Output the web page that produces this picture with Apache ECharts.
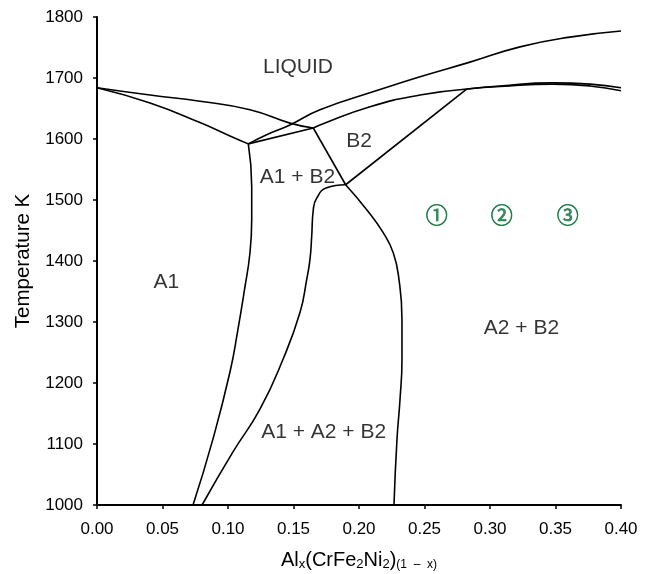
<!DOCTYPE html>
<html>
<head>
<meta charset="utf-8">
<script src="https://cdn.jsdelivr.net/npm/echarts@6/dist/echarts.min.js"></script>
<style>
  html, body { margin: 0; padding: 0; background: #fff; }
  #chart { width: 649px; height: 574px; }
</style>
</head>
<body>
<div id="chart"></div>
<script>
// phase boundaries, [x, T]
const liquidusLeftUpper = [[0, 1684], [0.0405, 1672], [0.0786, 1662], [0.1168, 1648], [0.1473, 1626], [0.1651, 1618]];
const liquidusLeftLower = [[0, 1684], [0.0405, 1659], [0.0786, 1627], [0.1015, 1605], [0.1155, 1592]];
const liquidusRight = [[0.1155, 1592], [0.1295, 1607], [0.1473, 1623], [0.1702, 1648], [0.216, 1681], [0.2466, 1702], [0.2847, 1726], [0.3229, 1751], [0.361, 1767], [0.40, 1777]];
const tieP1J = [[0.1155, 1592], [0.1651, 1618]];
const a1Boundary = [[0.1155, 1592], [0.1181, 1522], [0.1181, 1468], [0.1168, 1414], [0.1126, 1353], [0.1076, 1288], [0.1015, 1218], [0.0885, 1108], [0.0733, 1000]];
const b2Upper = [[0.1651, 1618], [0.1702, 1623], [0.2084, 1653], [0.2466, 1672], [0.2824, 1682]];
const b2TopOuter = [[0.2824, 1682], [0.3076, 1687], [0.3481, 1692], [0.3763, 1690], [0.40, 1684]];
const b2TopInner = [[0.2824, 1682], [0.3076, 1686], [0.3481, 1690], [0.3763, 1687], [0.40, 1679]];
const tieJK = [[0.1651, 1618], [0.1898, 1525]];
const tieKQ = [[0.1898, 1525], [0.2824, 1682]];
const a2Left = [[0.1898, 1525], [0.1753, 1520], [0.1677, 1503], [0.1651, 1484], [0.1639, 1441], [0.1626, 1403], [0.1601, 1370], [0.155, 1316], [0.142, 1239], [0.1244, 1157], [0.1038, 1087], [0.0802, 1000]];
const a1Right = [[0.1898, 1525], [0.2059, 1484], [0.2186, 1446], [0.2262, 1413], [0.2305, 1370], [0.2328, 1304], [0.2328, 1239], [0.2313, 1173], [0.229, 1108], [0.2267, 1000]];

const regionLabels = [
  [0.1534, 1717, 'LIQUID'],
  [0.153, 1537, 'A1 + B2'],
  [0.2, 1596, 'B2'],
  [0.053, 1365, 'A1'],
  [0.324, 1290, 'A2 + B2'],
  [0.173, 1120, 'A1 + A2 + B2']
];
const sampleMarks = [[0.2593, 1476, '①'], [0.309, 1476, '②'], [0.3593, 1476, '③']];

const curves = [
  [liquidusLeftUpper, true], [liquidusLeftLower, true], [liquidusRight, true],
  [tieP1J, false], [a1Boundary, true], [b2Upper, true], [b2TopOuter, true],
  [b2TopInner, true], [tieJK, false], [tieKQ, false], [a2Left, true], [a1Right, true]
];

const chart = echarts.init(document.getElementById('chart'));
const font = 'Liberation Sans, Arial, sans-serif';

chart.setOption({
  animation: false,
  grid: { left: 97, right: 28, top: 17, bottom: 69, outerBoundsMode: 'none', containLabel: false },
  xAxis: {
    type: 'value', min: 0, max: 0.4, interval: 0.05,
    axisLine: { lineStyle: { color: '#000', width: 2 } },
    axisTick: { show: true, length: 4, lineStyle: { color: '#000', width: 1.5 } },
    axisLabel: { color: '#000', fontSize: 17, fontFamily: font, margin: 16, formatter: v => v.toFixed(2) },
    splitLine: { show: false },
    nameLocation: 'middle', nameGap: 44,
    name: '{n|Al}{s|x}{n|(CrFe}{s|2}{n|Ni}{s|2}{n|)}{t|(1  –  x)}',
    nameTextStyle: {
      rich: {
        n: { fontSize: 20, fontFamily: font, color: '#000', lineHeight: 22, verticalAlign: 'middle' },
        s: { fontSize: 13, fontFamily: font, color: '#000', lineHeight: 22, verticalAlign: 'bottom' },
        t: { fontSize: 12, fontFamily: font, color: '#000', lineHeight: 22, verticalAlign: 'bottom' }
      }
    }
  },
  yAxis: {
    type: 'value', min: 1000, max: 1800, interval: 100,
    axisLine: { show: true, lineStyle: { color: '#000', width: 2 } },
    axisTick: { show: true, length: 4, lineStyle: { color: '#000', width: 1.5 } },
    axisLabel: { color: '#000', fontSize: 17, fontFamily: font, margin: 14, formatter: v => String(v) },
    splitLine: { show: false },
    name: 'Temperature K', nameLocation: 'middle', nameGap: 62,
    nameTextStyle: { color: '#000', fontSize: 20.5, fontFamily: font }
  },
  series: curves.map(([data, smooth]) => ({
    type: 'line',
    data: data,
    smooth: smooth ? 0.5 : false,
    symbol: 'none',
    lineStyle: { color: '#000', width: 1.6 },
    silent: true
  })).concat([
    {
      type: 'scatter',
      data: regionLabels,
      symbolSize: 0,
      silent: true,
      label: {
        show: true, position: 'inside', color: '#000', fontSize: 21, fontFamily: font,
        formatter: p => p.data[2]
      }
    },
    {
      type: 'scatter',
      data: sampleMarks,
      symbolSize: 0,
      silent: true,
      label: {
        show: true, position: 'inside', color: '#0f7038', fontSize: 22,
        textBorderColor: '#0f7038', textBorderWidth: 0.7,
        fontFamily: 'Noto Sans CJK JP, DejaVu Sans, sans-serif',
        formatter: p => p.data[2]
      }
    }
  ])
});
</script>
</body>
</html>
